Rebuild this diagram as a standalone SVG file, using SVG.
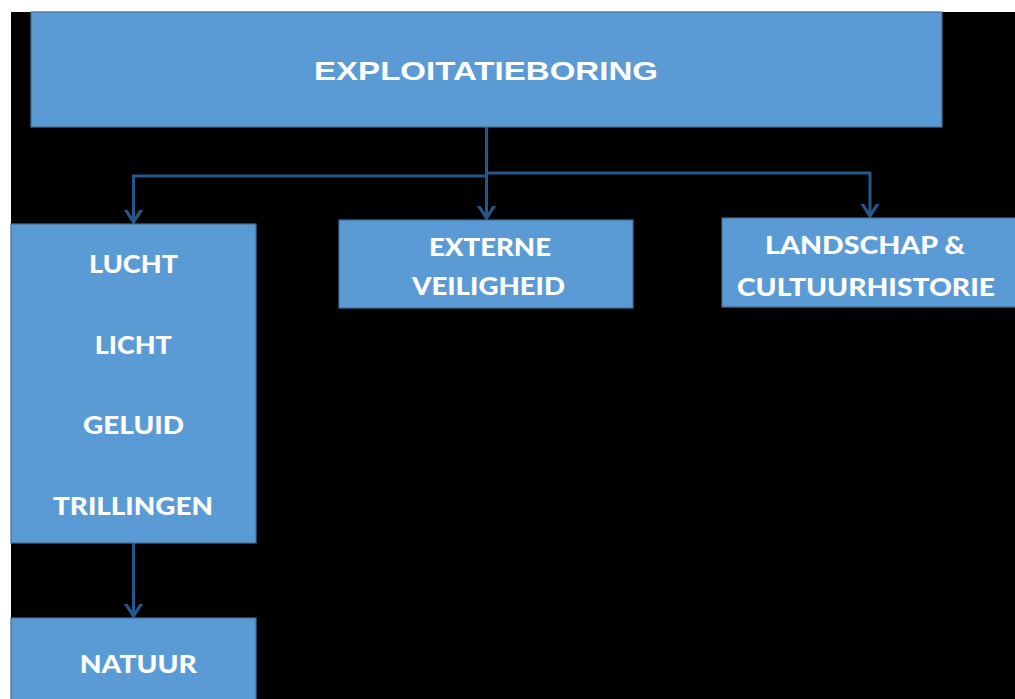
<svg xmlns="http://www.w3.org/2000/svg" width="1015" height="699" viewBox="0 0 1015 699">
  <style>
    .box { fill: #5B9BD5; stroke: #41719C; stroke-width: 1.2; }
    .t { fill: #FFFFFF; font-family: "Lato", "Open Sans", "Liberation Sans", sans-serif; font-weight: 900; font-size: 25.5px; text-anchor: middle; }
    .ta { fill: #FFFFFF; font-family: "Liberation Sans", Arial, sans-serif; font-weight: bold; font-size: 26.5px; text-anchor: middle; }
    .conn { fill: none; stroke: #24578A; stroke-width: 3; }
  </style>
  <defs>
    <marker id="arr" markerUnits="userSpaceOnUse" markerWidth="24" markerHeight="24" viewBox="-12 -12 24 24" refX="0" refY="0" orient="auto">
      <path d="M-14,-9 L0,0 L-14,9" fill="none" stroke="#24578A" stroke-width="3.2"/>
    </marker>
  </defs>
  <rect x="0" y="0" width="1015" height="699" fill="#FFFFFF"/>
  <rect x="11" y="12" width="1004" height="687" fill="#000000"/>

  <g id="connectors">
    <path class="conn" d="M486.5,127 L486.5,218" marker-end="url(#arr)"/>
    <path class="conn" d="M486.5,176 L133.5,176 L133.5,222" marker-end="url(#arr)"/>
    <path class="conn" d="M486.5,173 L870,173 L870,216" marker-end="url(#arr)"/>
    <path class="conn" d="M133.5,543 L133.5,616" marker-end="url(#arr)"/>
  </g>

  <g id="exploitatieboring">
    <rect class="box" x="31" y="12" width="911" height="115"/>
    <text class="ta" x="486" y="79.5" textLength="344" lengthAdjust="spacingAndGlyphs">EXPLOITATIEBORING</text>
  </g>

  <g id="externe-veiligheid">
    <rect class="box" x="339" y="220" width="294" height="88"/>
    <text class="t" x="490" y="255.5" textLength="122" lengthAdjust="spacingAndGlyphs">EXTERNE</text>
    <text class="t" x="488.5" y="295" textLength="153" lengthAdjust="spacingAndGlyphs">VEILIGHEID</text>
  </g>

  <g id="landschap">
    <rect class="box" x="722" y="218" width="300" height="89"/>
    <text class="t" x="865" y="254.3" textLength="200" lengthAdjust="spacingAndGlyphs">LANDSCHAP &amp;</text>
    <text class="t" x="866" y="295.5" textLength="258" lengthAdjust="spacingAndGlyphs">CULTUURHISTORIE</text>
  </g>

  <g id="lucht-licht-geluid-trillingen">
    <rect class="box" x="11" y="224" width="245" height="319"/>
    <text class="t" x="133.5" y="273.3" textLength="89" lengthAdjust="spacingAndGlyphs">LUCHT</text>
    <text class="t" x="133.3" y="354" textLength="77" lengthAdjust="spacingAndGlyphs">LICHT</text>
    <text class="t" x="133.5" y="434" textLength="101" lengthAdjust="spacingAndGlyphs">GELUID</text>
    <text class="t" x="133" y="515" textLength="160" lengthAdjust="spacingAndGlyphs">TRILLINGEN</text>
  </g>

  <g id="natuur">
    <rect class="box" x="11" y="618" width="245" height="90"/>
    <text class="t" x="138.3" y="673" textLength="117" lengthAdjust="spacingAndGlyphs">NATUUR</text>
  </g>
</svg>
